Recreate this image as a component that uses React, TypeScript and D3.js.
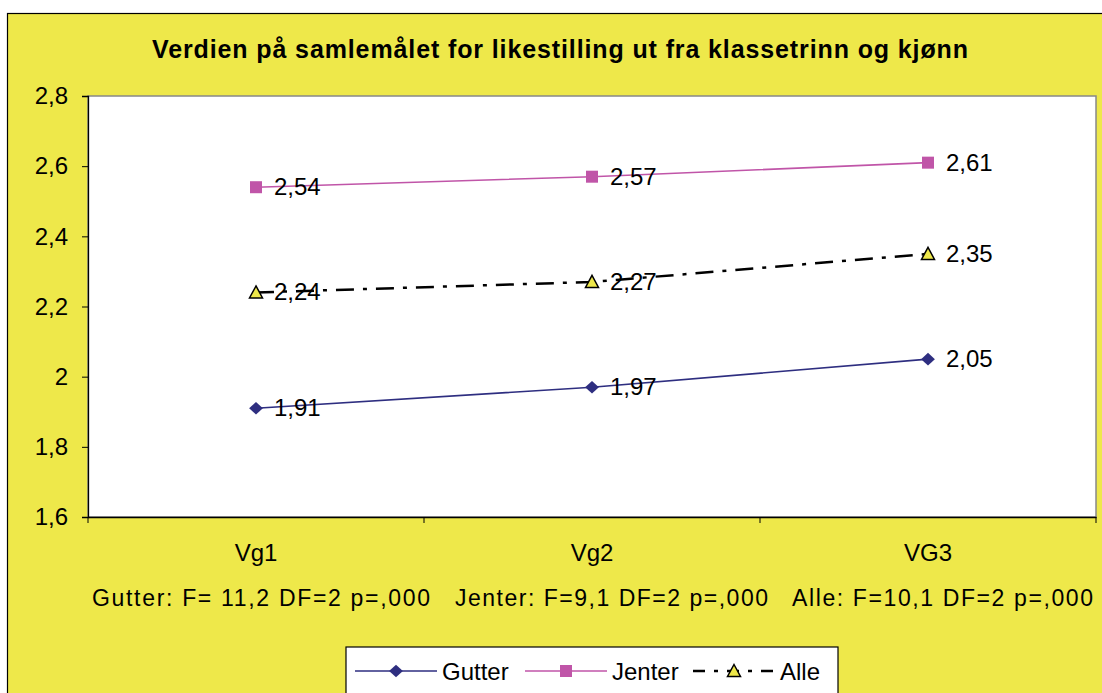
import { useEffect, useRef } from "react";
import * as d3 from "d3";

const categories = ["Vg1", "Vg2", "VG3"];
const gutter = [1.91, 1.97, 2.05];
const jenter = [2.54, 2.57, 2.61];
const alle = [2.24, 2.27, 2.35];
const yTicks = [1.6, 1.8, 2, 2.2, 2.4, 2.6, 2.8];
const statsText = [
  "Gutter: F= 11,2 DF=2 p=,000",
  "Jenter: F=9,1 DF=2 p=,000",
  "Alle: F=10,1 DF=2 p=,000",
];

const fmt = (v: number) => String(v).replace(".", ",");

export default function App() {
  const ref = useRef<SVGSVGElement>(null);

  useEffect(() => {
    const width = 1102;
    const height = 693;
    const plot = { left: 88, top: 96, right: 1096, bottom: 517 };
    const font = "Arial, 'Liberation Sans', sans-serif";

    const svg = d3.select(ref.current);
    svg.selectAll("*").remove();

    // background frame
    svg
      .append("rect")
      .attr("x", 7.5)
      .attr("y", 13.5)
      .attr("width", width)
      .attr("height", height)
      .attr("fill", "#EEE84A")
      .attr("stroke", "#000")
      .attr("stroke-width", 1.2);

    svg
      .append("text")
      .attr("x", 560)
      .attr("y", 58)
      .attr("text-anchor", "middle")
      .attr("font-family", font)
      .attr("font-weight", "bold")
      .attr("font-size", 25)
      .attr("textLength", 816)
      .attr("lengthAdjust", "spacing")
      .text("Verdien på samlemålet for likestilling ut fra klassetrinn og kjønn");

    const x = d3
      .scaleBand<string>()
      .domain(categories)
      .range([plot.left, plot.right]);
    const y = d3.scaleLinear().domain([1.6, 2.8]).range([plot.bottom, plot.top]);

    svg
      .append("rect")
      .attr("x", plot.left)
      .attr("y", plot.top)
      .attr("width", plot.right - plot.left)
      .attr("height", plot.bottom - plot.top)
      .attr("fill", "#fff")
      .attr("stroke", "#888")
      .attr("stroke-width", 1.5);

    // y axis
    const yAxis = svg
      .append("g")
      .attr("transform", `translate(${plot.left},0)`)
      .call(
        d3
          .axisLeft(y)
          .tickValues(yTicks)
          .tickSize(6)
          .tickPadding(14)
          .tickFormat((d) => fmt(d as number))
      );
    yAxis.select(".domain").attr("stroke", "#000").attr("stroke-width", 1.3);
    yAxis.selectAll("line").attr("stroke", "#000");
    yAxis
      .selectAll("text")
      .attr("font-family", font)
      .attr("font-size", 24)
      .attr("fill", "#000");

    // x axis
    const xAxis = svg
      .append("g")
      .attr("transform", `translate(0,${plot.bottom})`)
      .call(d3.axisBottom(x).tickSize(0).tickPadding(27));
    xAxis.select(".domain").attr("stroke", "#000").attr("stroke-width", 1.3);
    xAxis
      .selectAll("text")
      .attr("font-family", font)
      .attr("font-size", 24)
      .attr("fill", "#000");
    const bounds = [plot.left, ...categories.map((c) => (x(c) as number) + x.bandwidth())];
    xAxis
      .selectAll(".bound")
      .data(bounds)
      .enter()
      .append("line")
      .attr("x1", (d) => d)
      .attr("x2", (d) => d)
      .attr("y1", 0)
      .attr("y2", 6)
      .attr("stroke", "#000");

    const cx = (i: number) => (x(categories[i]) as number) + x.bandwidth() / 2;
    const line = d3
      .line<number>()
      .x((_, i) => cx(i))
      .y((d) => y(d));

    const series = [
      { name: "Gutter", values: gutter, color: "#2E2E80", dash: null, marker: "diamond" },
      { name: "Jenter", values: jenter, color: "#C055A8", dash: null, marker: "square" },
      { name: "Alle", values: alle, color: "#000", dash: "18,9,4,9", marker: "triangle" },
    ];

    const drawMarker = (
      g: any,
      kind: string,
      px: number,
      py: number,
      color: string
    ) => {
      if (kind === "diamond") {
        g.append("path")
          .attr("d", d3.symbol(d3.symbolDiamond2, 100)())
          .attr("transform", `translate(${px},${py}) scale(1.1,1)`)
          .attr("fill", color);
      } else if (kind === "square") {
        g.append("rect")
          .attr("x", px - 6)
          .attr("y", py - 6)
          .attr("width", 12)
          .attr("height", 12)
          .attr("fill", color);
      } else {
        g.append("path")
          .attr("d", `M${px},${py - 6.5}L${px + 6.5},${py + 5.5}L${px - 6.5},${py + 5.5}Z`)
          .attr("fill", "#EEE84A")
          .attr("stroke", "#000")
          .attr("stroke-width", 1.5);
      }
    };

    series.forEach((s) => {
      svg
        .append("path")
        .datum(s.values)
        .attr("d", line)
        .attr("fill", "none")
        .attr("stroke", s.color)
        .attr("stroke-width", s.dash ? 2.5 : 1.6)
        .attr("stroke-dasharray", s.dash ?? null);
    });

    series.forEach((s) => {
      const g = svg.append("g");
      s.values.forEach((v, i) => {
        drawMarker(g, s.marker, cx(i), y(v), s.color);
        g.append("text")
          .attr("x", cx(i) + 18)
          .attr("y", y(v) + 8)
          .attr("font-family", font)
          .attr("font-size", 24)
          .attr("fill", "#000")
          .text(fmt(v));
      });
    });

    // statistics line
    const statX = [92, 455, 792];
    const statW = [338, 313, 301];
    statsText.forEach((t, i) => {
      svg
        .append("text")
        .attr("x", statX[i])
        .attr("y", 606)
        .attr("font-family", font)
        .attr("font-size", 23)
        .attr("textLength", statW[i])
        .attr("lengthAdjust", "spacing")
        .text(t);
    });

    // legend
    const lg = svg.append("g");
    lg.append("rect")
      .attr("x", 346)
      .attr("y", 647)
      .attr("width", 492)
      .attr("height", 60)
      .attr("fill", "#fff")
      .attr("stroke", "#000")
      .attr("stroke-width", 1.2);
    const legendX = [355, 525, 693];
    const legendW = 82;
    series.forEach((s, i) => {
      const lx = legendX[i];
      const ly = 671;
      lg.append("line")
        .attr("x1", lx)
        .attr("x2", lx + legendW)
        .attr("y1", ly)
        .attr("y2", ly)
        .attr("stroke", s.color)
        .attr("stroke-width", s.dash ? 2.5 : 1.6)
        .attr("stroke-dasharray", s.dash ? "12,9,4,9" : null);
      drawMarker(lg, s.marker, lx + legendW / 2, ly, s.color);
      lg.append("text")
        .attr("x", lx + legendW + 5)
        .attr("y", ly + 9)
        .attr("font-family", font)
        .attr("font-size", 24)
        .text(s.name);
    });
  }, []);

  return (
    <svg
      ref={ref}
      width={1102}
      height={693}
      style={{ position: "absolute", left: 0, top: 0, background: "#fff" }}
    />
  );
}
